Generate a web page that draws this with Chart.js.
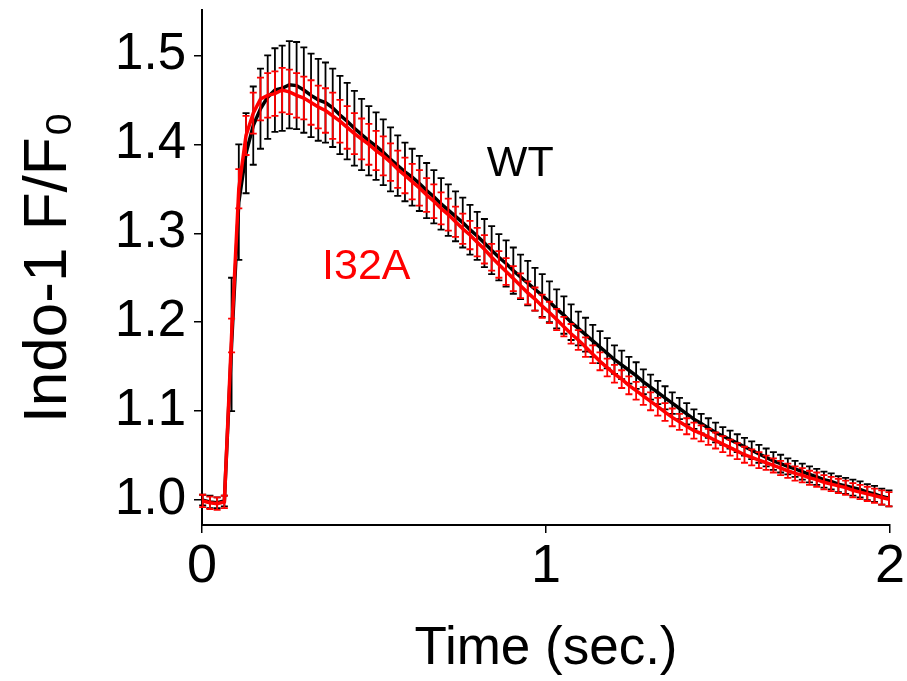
<!DOCTYPE html>
<html>
<head>
<meta charset="utf-8">
<script src="https://cdn.jsdelivr.net/npm/chart.js@4/dist/chart.umd.min.js"></script>
<style>
  html, body { margin: 0; padding: 0; background: #fff; }
  #wrap { width: 907px; height: 681px; }
</style>
</head>
<body>
<div id="wrap"><canvas id="c" width="907" height="681"></canvas></div>
<script>
// Time points (sec.)
const timeSec = [0.002,0.023,0.044,0.065,0.086,0.107,0.128,0.149,0.170,0.191,0.212,0.233,0.254,0.275,0.296,0.317,0.338,0.359,0.380,0.401,0.422,0.443,0.464,0.485,0.506,0.527,0.548,0.569,0.590,0.611,0.632,0.653,0.674,0.695,0.716,0.737,0.758,0.779,0.800,0.821,0.842,0.863,0.884,0.905,0.926,0.947,0.968,0.989,1.010,1.031,1.052,1.073,1.094,1.115,1.136,1.157,1.178,1.199,1.220,1.241,1.262,1.283,1.304,1.325,1.346,1.367,1.388,1.409,1.430,1.451,1.472,1.493,1.514,1.535,1.556,1.577,1.598,1.619,1.640,1.661,1.682,1.703,1.724,1.745,1.766,1.787,1.808,1.829,1.850,1.871,1.892,1.913,1.934,1.955,1.976,1.997];

// WT mean and error
const wtMean = [1.000,0.998,0.997,0.999,1.175,1.335,1.390,1.421,1.440,1.453,1.461,1.463,1.467,1.466,1.461,1.455,1.450,1.447,1.441,1.433,1.426,1.418,1.411,1.404,1.398,1.391,1.383,1.376,1.369,1.363,1.356,1.348,1.341,1.333,1.326,1.319,1.312,1.304,1.297,1.289,1.281,1.273,1.266,1.258,1.251,1.244,1.237,1.230,1.223,1.215,1.208,1.200,1.193,1.186,1.179,1.172,1.165,1.158,1.152,1.146,1.140,1.133,1.127,1.121,1.115,1.109,1.103,1.097,1.091,1.086,1.081,1.076,1.072,1.068,1.064,1.060,1.056,1.052,1.048,1.044,1.041,1.038,1.035,1.032,1.029,1.026,1.023,1.021,1.018,1.016,1.014,1.012,1.009,1.007,1.004,1.002];
const wtErr = [0.006,0.007,0.006,0.006,0.075,0.065,0.045,0.044,0.045,0.047,0.047,0.048,0.049,0.049,0.048,0.047,0.046,0.045,0.044,0.044,0.043,0.042,0.040,0.039,0.038,0.037,0.036,0.034,0.033,0.032,0.031,0.031,0.030,0.029,0.029,0.028,0.028,0.028,0.027,0.027,0.027,0.026,0.026,0.026,0.025,0.025,0.024,0.024,0.023,0.022,0.021,0.020,0.019,0.019,0.018,0.018,0.017,0.016,0.016,0.015,0.015,0.014,0.014,0.013,0.013,0.012,0.012,0.012,0.011,0.011,0.011,0.011,0.010,0.010,0.010,0.010,0.010,0.010,0.010,0.010,0.010,0.009,0.009,0.009,0.009,0.009,0.009,0.009,0.009,0.009,0.009,0.009,0.009,0.009,0.009,0.009];

// I32A mean and error
const i32aMean = [0.999,0.997,0.996,0.998,1.185,1.350,1.410,1.435,1.451,1.455,1.457,1.461,1.459,1.455,1.452,1.447,1.442,1.438,1.432,1.426,1.419,1.412,1.406,1.400,1.393,1.387,1.380,1.372,1.365,1.358,1.351,1.343,1.336,1.328,1.321,1.313,1.305,1.298,1.290,1.282,1.273,1.265,1.257,1.249,1.241,1.233,1.226,1.218,1.211,1.203,1.195,1.187,1.180,1.172,1.164,1.156,1.149,1.142,1.136,1.129,1.123,1.117,1.111,1.105,1.099,1.093,1.088,1.083,1.078,1.075,1.071,1.067,1.063,1.059,1.055,1.051,1.048,1.045,1.042,1.039,1.036,1.033,1.030,1.028,1.025,1.023,1.020,1.018,1.016,1.014,1.011,1.009,1.007,1.005,1.003,1.001];
const i32aErr = [0.007,0.007,0.007,0.007,0.019,0.022,0.022,0.023,0.024,0.025,0.025,0.025,0.025,0.025,0.024,0.025,0.024,0.025,0.026,0.024,0.024,0.023,0.023,0.023,0.022,0.022,0.021,0.021,0.020,0.020,0.020,0.019,0.019,0.018,0.018,0.017,0.017,0.016,0.016,0.016,0.015,0.015,0.015,0.014,0.014,0.013,0.013,0.013,0.012,0.012,0.011,0.011,0.011,0.011,0.010,0.010,0.010,0.010,0.010,0.010,0.010,0.010,0.010,0.010,0.010,0.010,0.009,0.009,0.009,0.009,0.009,0.009,0.009,0.009,0.009,0.009,0.009,0.009,0.008,0.008,0.008,0.008,0.008,0.008,0.008,0.008,0.008,0.008,0.008,0.008,0.008,0.008,0.008,0.008,0.008,0.008];

const xTicks = [0, 1, 2];
const yTicks = [1.0, 1.1, 1.2, 1.3, 1.4, 1.5];
const seriesLabels = ['WT', 'I32A'];
const labelPositions = [[0.828, 1.364], [0.349, 1.249]]; // data coords of series text labels

const FONT = "'Liberation Sans', Arial, Helvetica, sans-serif";

function toPoints(xs, ys) { return xs.map((x, i) => ({ x: x, y: ys[i] })); }

const errorBars = {
  id: 'errorBars',
  beforeDatasetDraw(chart, args) {
    const ds = chart.data.datasets[args.index];
    if (!ds.errors) return;
    const ctx = chart.ctx, xs = chart.scales.x, ys = chart.scales.y;
    ctx.save();
    ctx.strokeStyle = ds.borderColor;
    ctx.lineWidth = 1.8;
    const cap = 3.5;
    ds.data.forEach((p, i) => {
      const e = ds.errors[i];
      const px = xs.getPixelForValue(p.x);
      const top = ys.getPixelForValue(p.y + e);
      const bot = ys.getPixelForValue(p.y - e);
      ctx.beginPath();
      ctx.moveTo(px, top); ctx.lineTo(px, bot);
      ctx.moveTo(px - cap, top); ctx.lineTo(px + cap, top);
      ctx.moveTo(px - cap, bot); ctx.lineTo(px + cap, bot);
      ctx.stroke();
    });
    ctx.restore();
  }
};

const seriesText = {
  id: 'seriesText',
  afterDatasetsDraw(chart) {
    const ctx = chart.ctx, xs = chart.scales.x, ys = chart.scales.y;
    ctx.save();
    ctx.font = '43px ' + FONT;
    ctx.textAlign = 'left';
    ctx.textBaseline = 'alphabetic';
    const colors = ['#000000', '#ff0000'];
    seriesLabels.forEach((t, i) => {
      ctx.fillStyle = colors[i];
      ctx.fillText(t, xs.getPixelForValue(labelPositions[i][0]), ys.getPixelForValue(labelPositions[i][1]));
    });
    ctx.restore();
  }
};

const whiteBg = {
  id: 'whiteBg',
  beforeDraw(chart) {
    const ctx = chart.ctx;
    ctx.save(); ctx.fillStyle = '#fff'; ctx.fillRect(0, 0, chart.width, chart.height); ctx.restore();
  }
};

new Chart(document.getElementById('c'), {
  type: 'line',
  data: {
    datasets: [
      { label: seriesLabels[1], data: toPoints(timeSec, i32aMean), errors: i32aErr,
        borderColor: '#ff0000', borderWidth: 3.5, pointRadius: 0, tension: 0, fill: false },
      { label: seriesLabels[0], data: toPoints(timeSec, wtMean), errors: wtErr,
        borderColor: '#000000', borderWidth: 3.5, pointRadius: 0, tension: 0, fill: false }
    ]
  },
  options: {
    responsive: false,
    devicePixelRatio: 1,
    animation: false,
    layout: { padding: { left: 0, right: 17, top: 10, bottom: 0 } },
    plugins: { legend: { display: false }, tooltip: { enabled: false } },
    scales: {
      x: {
        type: 'linear', min: 0, max: 2,
        afterBuildTicks: s => { s.ticks = xTicks.map(v => ({ value: v })); },
        afterFit: s => { s.height = 156; s.paddingLeft = 0; s.paddingRight = 0; },
        ticks: { color: '#000', font: { family: FONT, size: 54 }, padding: 2, maxRotation: 0,
                 callback: v => String(v) },
        grid: { drawOnChartArea: false, drawTicks: true, tickLength: 8, lineWidth: 1.5, color: '#000' },
        border: { display: true, color: '#000', width: 2 },
        title: { display: true, text: 'Time (sec.)', color: '#000',
                 font: { family: FONT, size: 53 }, padding: { top: 0, bottom: 0 } }
      },
      y: {
        type: 'linear', min: 0.972, max: 1.551,
        afterBuildTicks: s => { s.ticks = yTicks.map(v => ({ value: v })); },
        afterFit: s => { s.width = 202; s.paddingTop = 0; s.paddingBottom = 0; },
        ticks: { color: '#000', font: { family: FONT, size: 51 }, padding: 8,
                 callback: v => Number(v).toFixed(1) },
        grid: { drawOnChartArea: false, drawTicks: true, tickLength: 8, lineWidth: 1.5, color: '#000' },
        border: { display: true, color: '#000', width: 2 },
        title: { display: true, text: 'Indo-1 F/F\u2080', color: '#000',
                 font: { family: FONT, size: 62 }, padding: { top: 12, bottom: 0 } }
      }
    }
  },
  plugins: [whiteBg, errorBars, seriesText]
});
</script>
</body>
</html>
